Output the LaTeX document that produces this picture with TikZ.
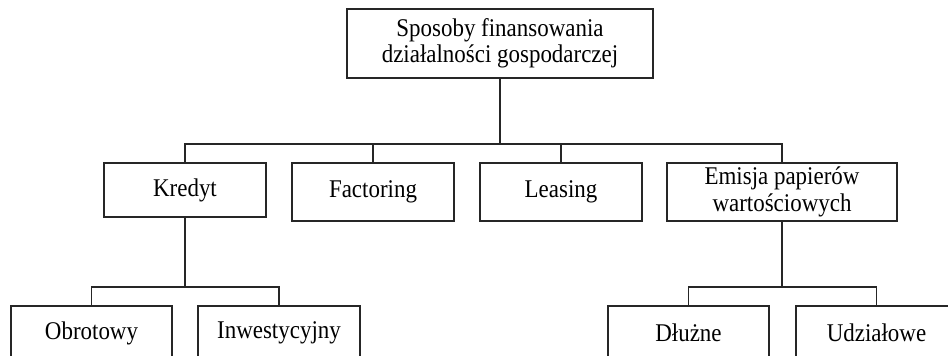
\documentclass[tikz,border=0pt]{standalone}
\usepackage{fontspec}
\setmainfont[FakeStretch=0.9]{Liberation Serif}
\begin{document}
\begin{tikzpicture}[x=1pt,y=-1pt,
  box/.style={draw=black!85, line width=1.1pt, inner sep=0pt, align=center,
    font=\fontsize{25.5}{26.5}\selectfont},
  conn/.style={draw=black!85, line width=1.3pt}]
\useasboundingbox (0,0) rectangle (948,356);
\clip (0,0) rectangle (948,356);
\node[box, minimum width=306pt, minimum height=69pt] (top) at (500,43.5)
  {Sposoby finansowania\\działalności gospodarczej};
\node[box, minimum width=162pt, minimum height=54pt] (kredyt) at (185,190) {Kredyt};
\node[box, minimum width=162pt, minimum height=58pt] (factoring) at (373,192) {Factoring};
\node[box, minimum width=162pt, minimum height=58pt] (leasing) at (561,192) {Leasing};
\node[box, minimum width=230pt, minimum height=58pt] (emisja) at (782,192)
  {Emisja papierów\\wartościowych};
\node[box, minimum width=161pt, minimum height=54pt] (obrotowy) at (91.5,333) {Obrotowy};
\node[box, minimum width=162pt, minimum height=54pt] (inwest) at (279,333) {Inwestycyjny};
\node[box, minimum width=161pt, minimum height=54pt] (dluzne) at (688.5,333) {Dłużne};
\node[box, minimum width=161pt, minimum height=54pt] (udzialowe) at (876.5,333) {Udziałowe};
\coordinate (bus) at (0,144);
\coordinate (busk) at (0,287);
\draw[conn] (top.south) -- (top.south |- bus);
\draw[conn] (kredyt.north) -- (kredyt.north |- bus) -- (emisja.north |- bus) -- (emisja.north);
\draw[conn] (factoring.north) -- (factoring.north |- bus);
\draw[conn] (leasing.north) -- (leasing.north |- bus);
\draw[conn] (kredyt.south) -- (kredyt.south |- busk);
\draw[conn] (obrotowy.north) -- (obrotowy.north |- busk) -- (inwest.north |- busk) -- (inwest.north);
\draw[conn] (emisja.south) -- (emisja.south |- busk);
\draw[conn] (dluzne.north) -- (dluzne.north |- busk) -- (udzialowe.north |- busk) -- (udzialowe.north);
\end{tikzpicture}
\end{document}
